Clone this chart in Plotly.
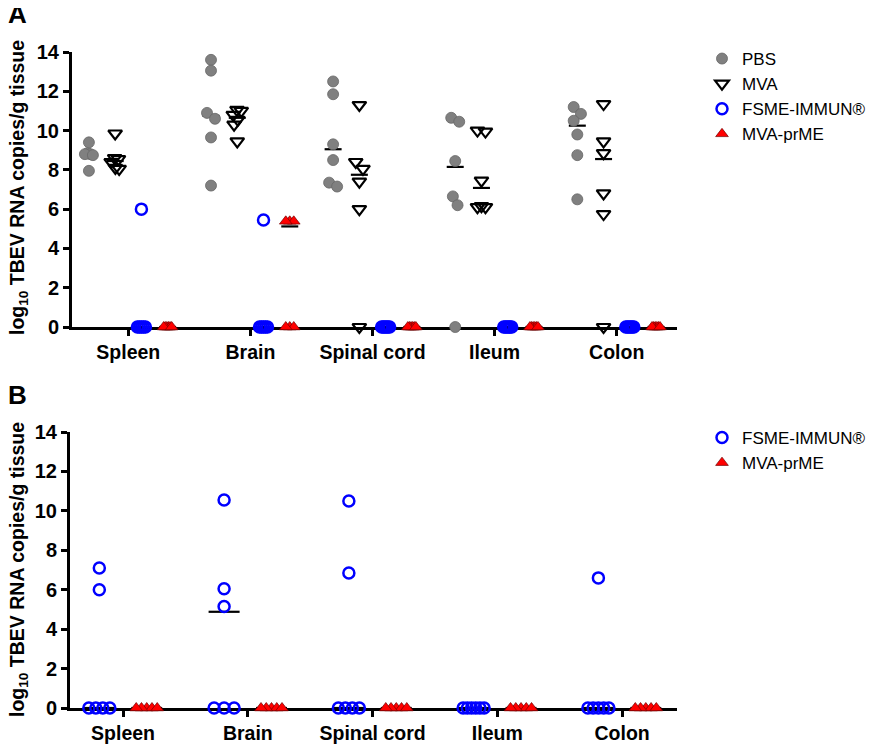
import plotly.graph_objects as go

# ---------------- data ----------------
categories = ["Spleen", "Brain", "Spinal cord", "Ileum", "Colon"]

# Panel A (one list per organ, in category order)
pbs_a = [
    [9.4, 8.85, 8.8, 8.8, 8.75, 7.95],
    [13.6, 13.05, 10.9, 10.6, 9.65, 7.2],
    [12.5, 11.85, 9.3, 8.5, 7.35, 7.15],
    [10.65, 10.45, 8.45, 6.65, 6.2, 0.0],
    [11.2, 10.85, 10.5, 9.8, 8.75, 6.5],
]
mva_a = [
    [9.85, 8.6, 8.55, 8.4, 8.1, 8.05],
    [11.05, 11.0, 10.8, 10.55, 10.3, 9.45],
    [11.3, 8.4, 8.05, 7.4, 6.0, 0.0],
    [10.0, 9.95, 7.45, 6.15, 6.1, 6.1],
    [11.35, 9.45, 8.85, 6.8, 5.75, 0.0],
]
fsme_a = [
    [6.0, 0, 0, 0, 0, 0],
    [5.45, 0, 0, 0, 0, 0],
    [0, 0, 0, 0, 0, 0],
    [0, 0, 0, 0, 0, 0],
    [0, 0, 0, 0, 0, 0],
]
prme_a = [
    [0, 0, 0, 0, 0, 0],
    [5.38, 5.38, 5.38, 0, 0, 0],
    [0, 0, 0, 0, 0, 0],
    [0, 0, 0, 0, 0, 0],
    [0, 0, 0, 0, 0, 0],
]
# summary lines panel A
pbs_a_line = [8.78, 10.75, 9.05, 8.15, 10.25]
mva_a_line = [8.45, 10.65, 7.75, 7.08, 8.55]
fsme_a_line = [0, 0, 0, 0, 0]
prme_a_line = [0, 5.12, 0, 0, 0]

# Panel B
fsme_b = [
    [7.1, 6.0, 0, 0, 0, 0],
    [10.55, 6.05, 5.15, 0, 0, 0],
    [10.5, 6.85, 0, 0, 0, 0],
    [0, 0, 0, 0, 0, 0],
    [6.6, 0, 0, 0, 0, 0],
]
prme_b = [
    [0, 0, 0, 0, 0],
    [0, 0, 0, 0, 0],
    [0, 0, 0, 0, 0],
    [0, 0, 0, 0, 0],
    [0, 0, 0, 0, 0],
]
fsme_b_line = [0, 4.88, 0, 0, 0]
prme_b_line = [0, 0, 0, 0, 0]

y_ticks = [0, 2, 4, 6, 8, 10, 12, 14]

# ---------------- layout helpers ----------------
OFF = 8                      # page body margin
W, H = 891 - OFF, 745 - OFF  # figure size
FONT = "Arial, Liberation Sans, sans-serif"


def px(xp):
    return (xp - OFF) / W


def py(yp):
    return 1 - (yp - OFF) / H


# pixel geometry of the two panels (window pixels)
A_x0, A_x1, A_ytop, A_ybot = 72, 677, 52, 327
B_x0, B_x1, B_ytop, B_ybot = 70, 677, 432, 708
A_xrange = [-0.461, 4.494]
B_xrange = [-0.425, 4.44]


def unit_px(x0, x1, rng):
    return (x1 - x0) / (rng[1] - rng[0])


A_ux = unit_px(A_x0, A_x1, A_xrange)
B_ux = unit_px(B_x0, B_x1, B_xrange)
A_uy = (A_ybot - A_ytop) / 14.0
B_uy = (B_ybot - B_ytop) / 14.0


def swarm(values, uy, ux, D, Wmax):
    """simple beeswarm: returns horizontal offsets in data units"""
    n = len(values)
    order = sorted(range(n), key=lambda i: -values[i])
    placed = []
    xs = [0.0] * n
    for i in order:
        y = values[i] * uy
        cands = [0.0]
        for qx, qy in placed:
            dy = abs(qy - y)
            if dy < D:
                dx = (D * D - dy * dy) ** 0.5
                cands += [qx + dx, qx - dx]
        cands.sort(key=abs)
        for c in cands:
            if all((c - qx) ** 2 + (y - qy) ** 2 >= D * D - 1e-6 for qx, qy in placed):
                xs[i] = c
                break
        placed.append((xs[i], y))
    idx = sorted(range(n), key=lambda i: values[i])
    clusters, cur = [], [idx[0]]
    for a, b in zip(idx, idx[1:]):
        if abs(values[b] - values[a]) * uy < D:
            cur.append(b)
        else:
            clusters.append(cur)
            cur = [b]
    clusters.append(cur)
    for cl in clusters:
        lo = min(xs[i] for i in cl)
        hi = max(xs[i] for i in cl)
        c = (lo + hi) / 2
        for i in cl:
            xs[i] -= c
        m = max(abs(xs[i]) for i in cl)
        if m > Wmax:
            for i in cl:
                xs[i] *= Wmax / m
    return [x / ux for x in xs]


def series_xy(data, offset, uy, ux, D, Wmax):
    xs, ys = [], []
    for ci, vals in enumerate(data):
        offs = swarm(vals, uy, ux, D, Wmax)
        for v, o in zip(vals, offs):
            xs.append(ci + offset + o)
            ys.append(v)
    return xs, ys


def line_xy(vals, offset, hw):
    xs, ys = [], []
    for ci, v in enumerate(vals):
        xs += [ci + offset - hw, ci + offset + hw, None]
        ys += [v, v, None]
    return xs, ys


fig = go.Figure()

GAP_A = 0.215
offA = [-1.5 * GAP_A, -0.5 * GAP_A, 0.5 * GAP_A, 1.5 * GAP_A]
offB = [-0.19, 0.19]
hwA = 8.5 / A_ux
hwB = 15.5 / B_ux

# summary lines (under markers)
for vals, o in zip([pbs_a_line, mva_a_line, fsme_a_line, prme_a_line], offA):
    lx, ly = line_xy(vals, o, hwA)
    fig.add_trace(go.Scatter(x=lx, y=ly, mode="lines", line=dict(color="black", width=2.2),
                             showlegend=False, hoverinfo="skip", xaxis="x", yaxis="y",
                             cliponaxis=False))
for vals, o in zip([fsme_b_line, prme_b_line], offB):
    lx, ly = line_xy(vals, o, hwB)
    fig.add_trace(go.Scatter(x=lx, y=ly, mode="lines", line=dict(color="black", width=2.2),
                             showlegend=False, hoverinfo="skip", xaxis="x2", yaxis="y2",
                             cliponaxis=False))

styles = {
    "PBS": dict(symbol="circle", size=11, color="#808080", line=dict(color="#666666", width=0.8)),
    "MVA": dict(symbol="triangle-down-open", size=12, color="black", line=dict(color="black", width=2.2)),
    "FSME-IMMUN®": dict(symbol="circle-open", size=11, color="#0000FF", line=dict(color="#0000FF", width=2.5)),
    "MVA-prME": dict(symbol="triangle-up", size=11, color="#FF0000", line=dict(color="#700000", width=0.7)),
}

DA, WA = 10.0, 4.0
for name, data, o in zip(["PBS", "MVA", "FSME-IMMUN®", "MVA-prME"],
                         [pbs_a, mva_a, fsme_a, prme_a], offA):
    xs, ys = series_xy(data, o, A_uy, A_ux, DA, WA)
    fig.add_trace(go.Scatter(x=xs, y=ys, mode="markers", name=name, marker=styles[name],
                             xaxis="x", yaxis="y", legend="legend",
                             cliponaxis=False))

DB, WB = 10.0, 10.5
for name, data, o in zip(["FSME-IMMUN®", "MVA-prME"], [fsme_b, prme_b], offB):
    xs, ys = series_xy(data, o, B_uy, B_ux, DB, WB)
    fig.add_trace(go.Scatter(x=xs, y=ys, mode="markers", name=name, marker=styles[name],
                             xaxis="x2", yaxis="y2", legend="legend2",
                             cliponaxis=False))

xcommon = dict(showgrid=False, zeroline=False, showline=True, linecolor="black", linewidth=3,
               ticks="outside", ticklen=6, tickwidth=2.5, tickcolor="black",
               tickvals=list(range(len(categories))), ticktext=categories,
               tickfont=dict(family=FONT, size=19.5, color="black", weight="bold"),
               layer="below traces", fixedrange=True, automargin=False)
ycommon = dict(showgrid=False, zeroline=False, showline=True, linecolor="black", linewidth=3,
               ticks="outside", ticklen=6, tickwidth=2.5, tickcolor="black",
               tickvals=y_ticks, range=[0, 14],
               tickfont=dict(family=FONT, size=20, color="black", weight="bold"),
               layer="below traces", fixedrange=True, automargin=False)

fig.update_layout(
    width=W, height=H,
    margin=dict(l=0, r=0, t=0, b=0),
    paper_bgcolor="white", plot_bgcolor="white",
    font=dict(family=FONT, color="black"),
    xaxis=dict(xcommon, domain=[px(A_x0), px(A_x1)], range=A_xrange, anchor="y"),
    yaxis=dict(ycommon, domain=[py(A_ybot), py(A_ytop)], anchor="x"),
    xaxis2=dict(xcommon, domain=[px(B_x0), px(B_x1)], range=B_xrange, anchor="y2"),
    yaxis2=dict(ycommon, domain=[py(B_ybot), py(B_ytop)], anchor="x2"),
    legend=dict(x=px(702), y=py(41), xanchor="left", yanchor="top",
                font=dict(family=FONT, size=17, color="black"),
                bgcolor="rgba(0,0,0,0)"),
    legend2=dict(x=px(702), y=py(420), xanchor="left", yanchor="top",
                 font=dict(family=FONT, size=17, color="black"),
                 bgcolor="rgba(0,0,0,0)"),
    showlegend=True,
)

ytitle = "<b>log<sub>10</sub> TBEV RNA copies/g tissue</b>"
fig.add_annotation(text=ytitle, x=px(18), y=py(188), xref="paper", yref="paper",
                   xanchor="center", yanchor="middle",
                   textangle=-90, showarrow=False, font=dict(family=FONT, size=19.5, color="black"))
fig.add_annotation(text=ytitle, x=px(18), y=py(570), xref="paper", yref="paper",
                   xanchor="center", yanchor="middle",
                   textangle=-90, showarrow=False, font=dict(family=FONT, size=19.5, color="black"))
fig.add_annotation(text="<b>A</b>", x=px(17), y=py(14), xref="paper", yref="paper",
                   xanchor="center", yanchor="middle",
                   showarrow=False, font=dict(family=FONT, size=26, color="black"))
fig.add_annotation(text="<b>B</b>", x=px(17), y=py(395), xref="paper", yref="paper",
                   xanchor="center", yanchor="middle",
                   showarrow=False, font=dict(family=FONT, size=26, color="black"))

fig.write_html("out.html")
